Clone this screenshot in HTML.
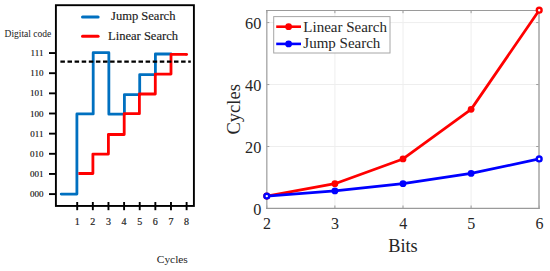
<!DOCTYPE html><html><head><meta charset="utf-8"><style>html,body{margin:0;padding:0;background:#fff;}svg{display:block;}text{font-family:"Liberation Serif",serif;}</style></head><body>
<svg width="550" height="271" viewBox="0 0 550 271">
<rect x="0" y="0" width="550" height="271" fill="#fff"/>
<rect x="55.9" y="5.2" width="138.00" height="200.75" fill="none" stroke="#000" stroke-width="1.9"/>
<line x1="49" y1="194.10" x2="55.9" y2="194.10" stroke="#000" stroke-width="1.9"/>
<text x="43.4" y="197.20" font-size="9" text-anchor="end" fill="#111" stroke="#111" stroke-width="0.15">000</text>
<line x1="49" y1="173.95" x2="55.9" y2="173.95" stroke="#000" stroke-width="1.9"/>
<text x="43.4" y="177.05" font-size="9" text-anchor="end" fill="#111" stroke="#111" stroke-width="0.15">001</text>
<line x1="49" y1="153.80" x2="55.9" y2="153.80" stroke="#000" stroke-width="1.9"/>
<text x="43.4" y="156.90" font-size="9" text-anchor="end" fill="#111" stroke="#111" stroke-width="0.15">010</text>
<line x1="49" y1="133.65" x2="55.9" y2="133.65" stroke="#000" stroke-width="1.9"/>
<text x="43.4" y="136.75" font-size="9" text-anchor="end" fill="#111" stroke="#111" stroke-width="0.15">011</text>
<line x1="49" y1="113.50" x2="55.9" y2="113.50" stroke="#000" stroke-width="1.9"/>
<text x="43.4" y="116.60" font-size="9" text-anchor="end" fill="#111" stroke="#111" stroke-width="0.15">100</text>
<line x1="49" y1="93.35" x2="55.9" y2="93.35" stroke="#000" stroke-width="1.9"/>
<text x="43.4" y="96.45" font-size="9" text-anchor="end" fill="#111" stroke="#111" stroke-width="0.15">101</text>
<line x1="49" y1="73.20" x2="55.9" y2="73.20" stroke="#000" stroke-width="1.9"/>
<text x="43.4" y="76.30" font-size="9" text-anchor="end" fill="#111" stroke="#111" stroke-width="0.15">110</text>
<line x1="49" y1="53.05" x2="55.9" y2="53.05" stroke="#000" stroke-width="1.9"/>
<text x="43.4" y="56.15" font-size="9" text-anchor="end" fill="#111" stroke="#111" stroke-width="0.15">111</text>
<text x="4.6" y="36.6" font-size="9.5" fill="#1a1a1a">Digital code</text>
<line x1="77.20" y1="202" x2="77.20" y2="210.2" stroke="#000" stroke-width="1.9"/>
<text x="77.20" y="224.9" font-size="10" text-anchor="middle" fill="#222" stroke="#222" stroke-width="0.2">1</text>
<line x1="92.83" y1="202" x2="92.83" y2="210.2" stroke="#000" stroke-width="1.9"/>
<text x="92.83" y="224.9" font-size="10" text-anchor="middle" fill="#222" stroke="#222" stroke-width="0.2">2</text>
<line x1="108.46" y1="202" x2="108.46" y2="210.2" stroke="#000" stroke-width="1.9"/>
<text x="108.46" y="224.9" font-size="10" text-anchor="middle" fill="#222" stroke="#222" stroke-width="0.2">3</text>
<line x1="124.09" y1="202" x2="124.09" y2="210.2" stroke="#000" stroke-width="1.9"/>
<text x="124.09" y="224.9" font-size="10" text-anchor="middle" fill="#222" stroke="#222" stroke-width="0.2">4</text>
<line x1="139.72" y1="202" x2="139.72" y2="210.2" stroke="#000" stroke-width="1.9"/>
<text x="139.72" y="224.9" font-size="10" text-anchor="middle" fill="#222" stroke="#222" stroke-width="0.2">5</text>
<line x1="155.35" y1="202" x2="155.35" y2="210.2" stroke="#000" stroke-width="1.9"/>
<text x="155.35" y="224.9" font-size="10" text-anchor="middle" fill="#222" stroke="#222" stroke-width="0.2">6</text>
<line x1="170.98" y1="202" x2="170.98" y2="210.2" stroke="#000" stroke-width="1.9"/>
<text x="170.98" y="224.9" font-size="10" text-anchor="middle" fill="#222" stroke="#222" stroke-width="0.2">7</text>
<line x1="186.61" y1="202" x2="186.61" y2="210.2" stroke="#000" stroke-width="1.9"/>
<text x="186.61" y="224.9" font-size="10" text-anchor="middle" fill="#222" stroke="#222" stroke-width="0.2">8</text>
<text x="156.8" y="263.1" font-size="11.4" fill="#222">Cycles</text>
<line x1="82.5" y1="17.1" x2="98.1" y2="17.1" stroke="#0070C0" stroke-width="3" stroke-linecap="round"/>
<line x1="82.5" y1="36.2" x2="98.1" y2="36.2" stroke="#FF0000" stroke-width="3" stroke-linecap="round"/>
<text x="111.0" y="20.4" font-size="12.55" fill="#1a1a1a" stroke="#1a1a1a" stroke-width="0.15">Jump Search</text>
<text x="108.0" y="39.6" font-size="12.55" fill="#1a1a1a" stroke="#1a1a1a" stroke-width="0.15">Linear Search</text>
<path d="M61.20,194.05 L76.90,194.05 L76.90,113.90 L93.20,113.90 L93.20,52.65 L108.85,52.65 L108.85,114.15 L124.40,114.15 L124.40,94.60 L139.70,94.60 L139.70,74.60 L155.40,74.60 L155.40,54.00 L171.00,54.00" fill="none" stroke="#0070C0" stroke-width="2.8" stroke-linejoin="round" stroke-linecap="round"/>
<path d="M78.40,173.50 L92.90,173.50 L92.90,154.10 L108.40,154.10 L108.40,134.50 L124.20,134.50 L124.20,113.70 L139.40,113.70 L139.40,94.00 L155.30,94.00 L155.30,74.10 L171.00,74.10 L171.00,54.40 L186.60,54.40" fill="none" stroke="#FF0000" stroke-width="2.8" stroke-linejoin="round"/>
<circle cx="186.6" cy="54.4" r="1.4" fill="#FF0000"/>
<line x1="60.4" y1="61.65" x2="190.8" y2="61.65" stroke="#000" stroke-width="2.1" stroke-dasharray="4.5 2.6"/>
<line x1="334.90" y1="10.5" x2="334.90" y2="208.4" stroke="#eeeeee" stroke-width="1"/>
<line x1="403.00" y1="10.5" x2="403.00" y2="208.4" stroke="#eeeeee" stroke-width="1"/>
<line x1="471.10" y1="10.5" x2="471.10" y2="208.4" stroke="#eeeeee" stroke-width="1"/>
<line x1="266.5" y1="146.53" x2="539" y2="146.53" stroke="#eeeeee" stroke-width="1"/>
<line x1="266.5" y1="84.56" x2="539" y2="84.56" stroke="#eeeeee" stroke-width="1"/>
<line x1="266.5" y1="22.59" x2="539" y2="22.59" stroke="#eeeeee" stroke-width="1"/>
<line x1="266.80" y1="208.4" x2="266.80" y2="205.5" stroke="#9a9a9a" stroke-width="1"/>
<line x1="266.80" y1="10.5" x2="266.80" y2="13.2" stroke="#9a9a9a" stroke-width="1"/>
<text x="267.00" y="228.8" font-size="16" text-anchor="middle" fill="#262626">2</text>
<line x1="334.90" y1="208.4" x2="334.90" y2="205.5" stroke="#9a9a9a" stroke-width="1"/>
<line x1="334.90" y1="10.5" x2="334.90" y2="13.2" stroke="#9a9a9a" stroke-width="1"/>
<text x="335.10" y="228.8" font-size="16" text-anchor="middle" fill="#262626">3</text>
<line x1="403.00" y1="208.4" x2="403.00" y2="205.5" stroke="#9a9a9a" stroke-width="1"/>
<line x1="403.00" y1="10.5" x2="403.00" y2="13.2" stroke="#9a9a9a" stroke-width="1"/>
<text x="403.20" y="228.8" font-size="16" text-anchor="middle" fill="#262626">4</text>
<line x1="471.10" y1="208.4" x2="471.10" y2="205.5" stroke="#9a9a9a" stroke-width="1"/>
<line x1="471.10" y1="10.5" x2="471.10" y2="13.2" stroke="#9a9a9a" stroke-width="1"/>
<text x="471.30" y="228.8" font-size="16" text-anchor="middle" fill="#262626">5</text>
<line x1="539.20" y1="208.4" x2="539.20" y2="205.5" stroke="#9a9a9a" stroke-width="1"/>
<line x1="539.20" y1="10.5" x2="539.20" y2="13.2" stroke="#9a9a9a" stroke-width="1"/>
<text x="539.40" y="228.8" font-size="16" text-anchor="middle" fill="#262626">6</text>
<line x1="266.5" y1="208.50" x2="269.3" y2="208.50" stroke="#9a9a9a" stroke-width="1"/>
<line x1="539" y1="208.50" x2="536.2" y2="208.50" stroke="#9a9a9a" stroke-width="1"/>
<text x="261.4" y="215.10" font-size="16.3" text-anchor="end" fill="#262626">0</text>
<line x1="266.5" y1="146.53" x2="269.3" y2="146.53" stroke="#9a9a9a" stroke-width="1"/>
<line x1="539" y1="146.53" x2="536.2" y2="146.53" stroke="#9a9a9a" stroke-width="1"/>
<text x="261.4" y="153.13" font-size="16.3" text-anchor="end" fill="#262626">20</text>
<line x1="266.5" y1="84.56" x2="269.3" y2="84.56" stroke="#9a9a9a" stroke-width="1"/>
<line x1="539" y1="84.56" x2="536.2" y2="84.56" stroke="#9a9a9a" stroke-width="1"/>
<text x="261.4" y="91.16" font-size="16.3" text-anchor="end" fill="#262626">40</text>
<line x1="266.5" y1="22.59" x2="269.3" y2="22.59" stroke="#9a9a9a" stroke-width="1"/>
<line x1="539" y1="22.59" x2="536.2" y2="22.59" stroke="#9a9a9a" stroke-width="1"/>
<text x="261.4" y="29.19" font-size="16.3" text-anchor="end" fill="#262626">60</text>
<path d="M539,10.5 L539,208.4" fill="none" stroke="#aaa" stroke-width="1.6"/>
<path d="M266.8,10.5 L266.8,208.4" fill="none" stroke="#aaa" stroke-width="1.4"/>
<path d="M266,10.5 L539.8,10.5 M266,208.4 L539.8,208.4" fill="none" stroke="#9a9a9a" stroke-width="1.1"/>
<text transform="translate(239.6,109.3) rotate(-90)" font-size="18.5" text-anchor="middle" fill="#262626">Cycles</text>
<text x="403" y="251.6" font-size="18.3" text-anchor="middle" fill="#262626">Bits</text>
<path d="M266.80,196.11 L334.90,183.71 L403.00,158.93 L471.10,109.35 L539.20,10.20" fill="none" stroke="#FF0000" stroke-width="2.75" stroke-linejoin="round"/>
<circle cx="266.80" cy="196.11" r="2.4" fill="#fff" stroke="#FF0000" stroke-width="2.4"/>
<circle cx="334.90" cy="183.71" r="3.4" fill="#FF0000"/>
<circle cx="403.00" cy="158.93" r="3.4" fill="#FF0000"/>
<circle cx="471.10" cy="109.35" r="3.4" fill="#FF0000"/>
<circle cx="539.20" cy="10.20" r="2.4" fill="#fff" stroke="#FF0000" stroke-width="2.4"/>
<path d="M266.80,196.11 L334.90,190.97 L403.00,183.71 L471.10,173.45 L539.20,158.93" fill="none" stroke="#0000FF" stroke-width="2.75" stroke-linejoin="round"/>
<circle cx="266.80" cy="196.11" r="2.4" fill="#fff" stroke="#0000FF" stroke-width="2.4"/>
<circle cx="334.90" cy="190.97" r="3.4" fill="#0000FF"/>
<circle cx="403.00" cy="183.71" r="3.4" fill="#0000FF"/>
<circle cx="471.10" cy="173.45" r="3.4" fill="#0000FF"/>
<circle cx="539.20" cy="158.93" r="2.4" fill="#fff" stroke="#0000FF" stroke-width="2.4"/>
<rect x="273.7" y="16.6" width="116.3" height="36.4" fill="#fff" stroke="#a6a6a6" stroke-width="1"/>
<line x1="276.2" y1="26.7" x2="301" y2="26.7" stroke="#FF0000" stroke-width="2.6"/>
<circle cx="288.6" cy="26.7" r="3.4" fill="#FF0000"/>
<line x1="276.2" y1="43.9" x2="301" y2="43.9" stroke="#0000FF" stroke-width="2.6"/>
<circle cx="288.6" cy="43.9" r="3.4" fill="#0000FF"/>
<text x="303.3" y="32.4" font-size="15" fill="#262626">Linear Search</text>
<text x="303.3" y="48.4" font-size="15" fill="#262626">Jump Search</text>
</svg></body></html>
